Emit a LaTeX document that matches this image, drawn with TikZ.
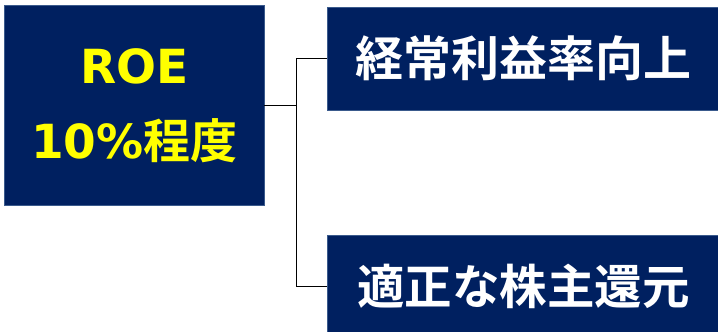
\documentclass[tikz,border=0pt]{standalone}
\usepackage{fontspec}
\newfontfamily\jp{Noto Sans CJK JP}[BoldFont={Noto Sans CJK JP Bold}]
\newfontfamily\lat{DejaVu Sans}[BoldFont={DejaVu Sans Bold}]
\definecolor{navy}{HTML}{002060}
\definecolor{navyedge}{HTML}{3A5A8C}
\definecolor{yel}{HTML}{FFFF00}
\begin{document}
\begin{tikzpicture}[x=1pt,y=-1pt,
  box/.style={rectangle, fill=navy, draw=navyedge, line width=0.6pt, inner sep=0pt},
  conn/.style={draw=black, line width=1pt}]
\clip (0,0) rectangle (718,332);
\useasboundingbox (0,0) rectangle (718,332);
\node[box, minimum width=259.5pt, minimum height=199.5pt, text=yel, align=center,
  font={\fontsize{47}{75}\selectfont\bfseries}] (roe) at (134.25,105.25)
  {\lat ROE\\\lat 10\%{\jp\bfseries 程度}};
\node[box, minimum width=392pt, minimum height=102.7pt, text=white,
  font={\fontsize{48}{50}\selectfont\jp\bfseries}] (top) at (523.3,58.65) {経常利益率向上};
\node[box, minimum width=392pt, minimum height=102.7pt, text=white,
  font={\fontsize{47.5}{50}\selectfont\jp\bfseries}] (bot) at (523.3,286.6) {適正な株主還元};
\coordinate (j) at (296,105.25);
\draw[conn] (roe.east) -- (j);
\draw[conn] (j) |- (top.west);
\draw[conn] (j) |- (bot.west);
\end{tikzpicture}
\end{document}
